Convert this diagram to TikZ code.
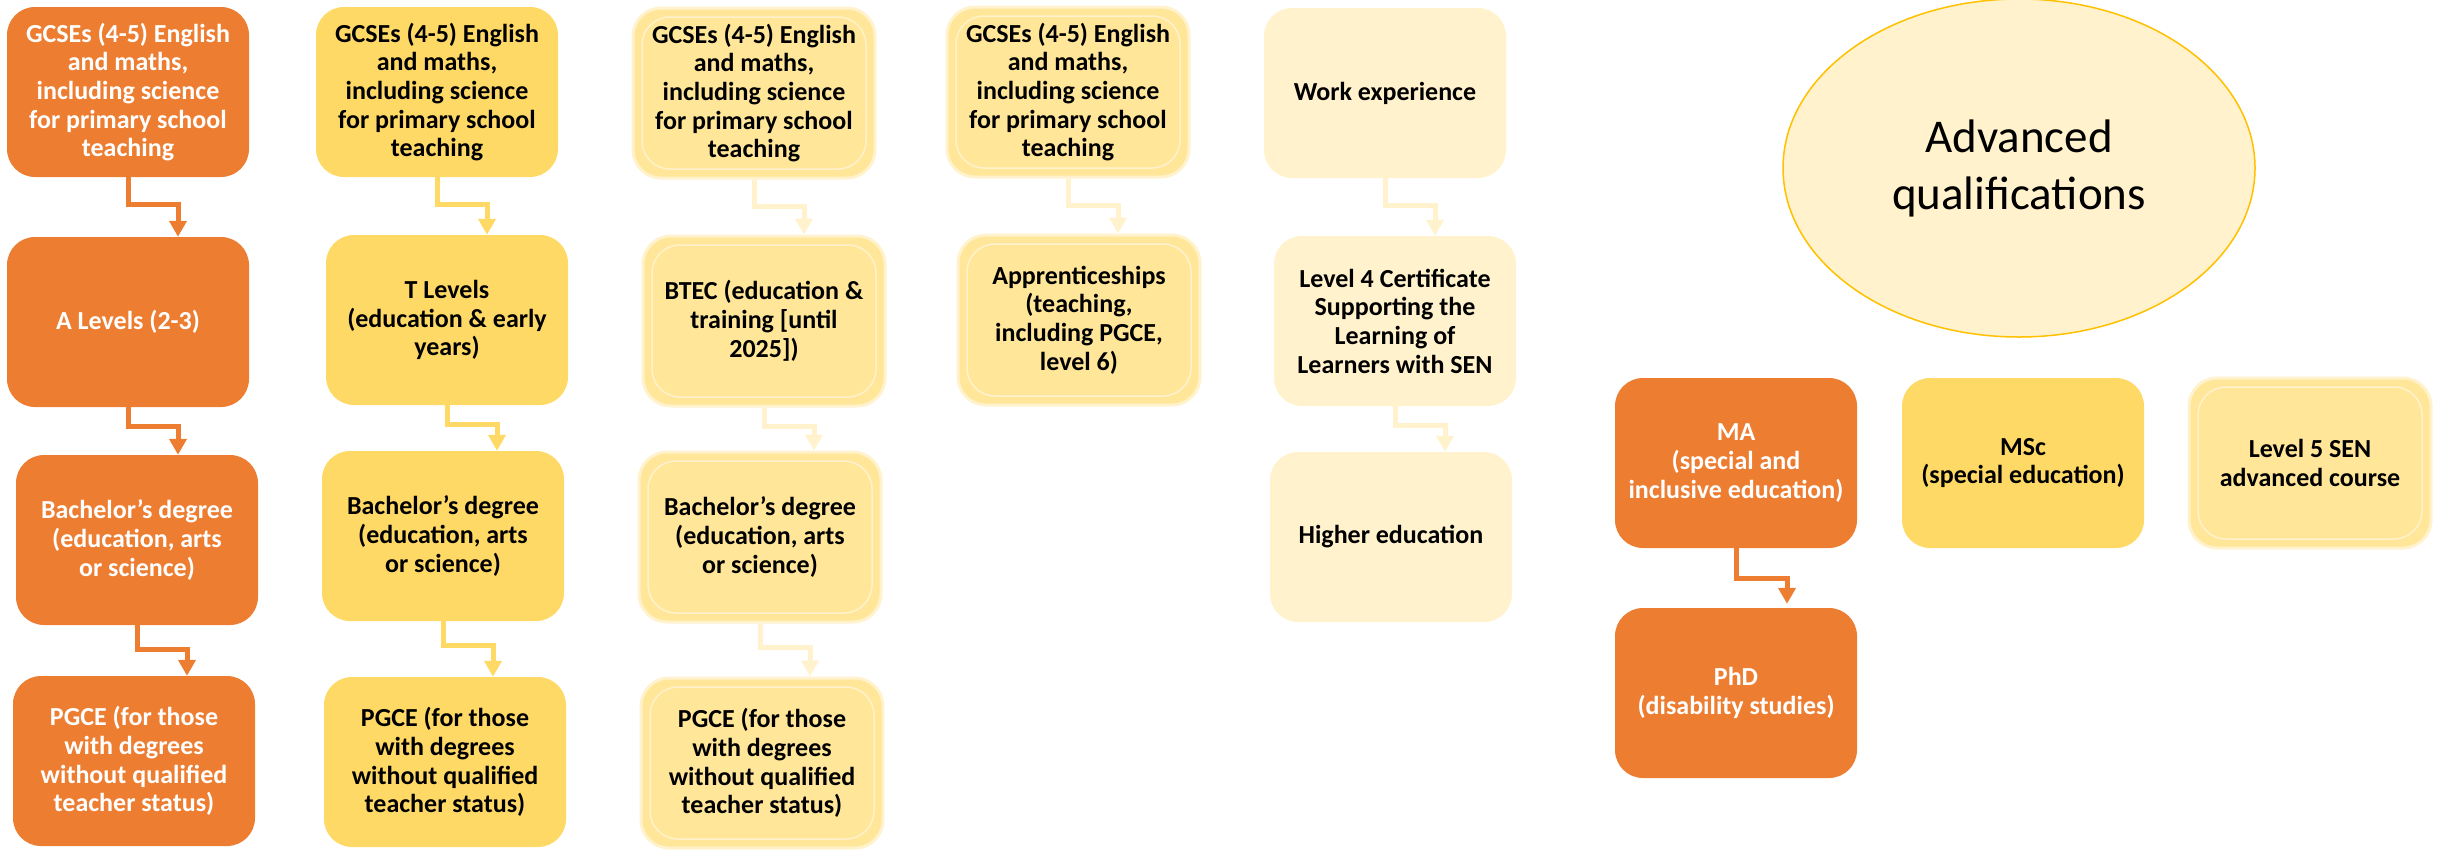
\documentclass[tikz,border=0pt]{standalone}
\usepackage{fontspec}
\setmainfont{Carlito}
\usetikzlibrary{arrows.meta,calc,shapes.geometric}
\definecolor{qorange}{HTML}{ED7D31}
\definecolor{qgold}{HTML}{FFD966}
\definecolor{qlight}{HTML}{FFE699}
\definecolor{qpale}{HTML}{FFF2CC}
\definecolor{qamber}{HTML}{FFC000}
\begin{document}
\begin{tikzpicture}[x=1pt,y=-1pt,
    box/.style={rounded corners=28pt,minimum width=242pt,minimum height=170pt,
      inner sep=0pt,align=center,font=\fontsize{26}{28.7}\selectfont\bfseries},
    hot/.style={box,fill=qorange,text=white},
    warm/.style={box,fill=qgold},
    framed/.style={box,fill=qlight,draw=qpale,line width=3pt,
      path picture={\draw[qpale,line width=1.5pt]
        ([shift={(9pt,-9pt)}]path picture bounding box.north west) rectangle
        ([shift={(-9pt,9pt)}]path picture bounding box.south east);}},
    pale/.style={box,fill=qpale},
    flow/.style={draw=#1,line width=5pt,-{Triangle[width=17pt,length=16pt]}}]
  \useasboundingbox (0,0) rectangle (2448,849);
  % first column
  \node[hot] (c1a) at (128,92) {GCSEs (4-5) English\\and maths,\\including science\\for primary school\\teaching};
  \node[hot] (c1b) at (128,322) {A Levels (2-3)};
  \node[hot] (c1c) at (137,540) {Bachelor’s degree\\(education, arts\\or science)};
  \node[hot] (c1d) at (134,761) {PGCE (for those\\with degrees\\without qualified\\teacher status)};
  % second column
  \node[warm] (c2a) at (437,92) {GCSEs (4-5) English\\and maths,\\including science\\for primary school\\teaching};
  \node[warm] (c2b) at (447,320) {T Levels\\(education \& early\\years)};
  \node[warm] (c2c) at (443,536) {Bachelor’s degree\\(education, arts\\or science)};
  \node[warm] (c2d) at (445,762) {PGCE (for those\\with degrees\\without qualified\\teacher status)};
  % third column
  \node[framed] (c3a) at (754,93) {GCSEs (4-5) English\\and maths,\\including science\\for primary school\\teaching};
  \node[framed] (c3b) at (764,321) {BTEC (education \&\\training [until\\2025])};
  \node[framed] (c3c) at (760,537) {Bachelor’s degree\\(education, arts\\or science)};
  \node[framed] (c3d) at (762,763) {PGCE (for those\\with degrees\\without qualified\\teacher status)};
  % fourth column
  \node[framed] (c4a) at (1068,92) {GCSEs (4-5) English\\and maths,\\including science\\for primary school\\teaching};
  \node[framed] (c4b) at (1079,320) {Apprenticeships\\(teaching,\\including PGCE,\\level 6)};
  % fifth column
  \node[pale] (c5a) at (1385,93) {Work experience};
  \node[pale] (c5b) at (1395,321) {Level 4 Certificate\\Supporting the\\Learning of\\Learners with SEN};
  \node[pale] (c5c) at (1391,537) {Higher education};
  % advanced
  \node[ellipse,draw=qamber,fill=qpale,line width=1.5pt,minimum width=472pt,minimum height=338pt,
    align=center,font=\fontsize{47}{57}\selectfont] (adv) at (2019,168) {Advanced\\qualifications};
  \node[hot] (ma) at (1736,463) {MA\\(special and\\inclusive education)};
  \node[hot] (phd) at (1736,693) {PhD\\(disability studies)};
  \node[warm] (msc) at (2023,463) {MSc\\(special education)};
  \node[framed] (sen) at (2310,463) {Level 5 SEN\\advanced course};
  % connectors
  \foreach \u/\l/\c/\d in {c1a/c1b/qorange/27,c1b/c1c/qorange/19,c1c/c1d/qorange/24,
      c2a/c2b/qgold/27,c2b/c2c/qgold/19,c2c/c2d/qgold/24,
      c3a/c3b/qpale/27,c3b/c3c/qpale/19,c3c/c3d/qpale/24,
      c4a/c4b/qpale/27,c5a/c5b/qpale/27,c5b/c5c/qpale/19}
    \draw[flow=\c] (\u.south) -- ++(0,\d) -| ($(\u.south |- \l.north)+(50,0)$);
  \draw[flow=qorange,shorten >=4pt] (ma.south) -- ++(0,30) -| ($(ma.south |- phd.north)+(51,0)$);
\end{tikzpicture}
\end{document}
